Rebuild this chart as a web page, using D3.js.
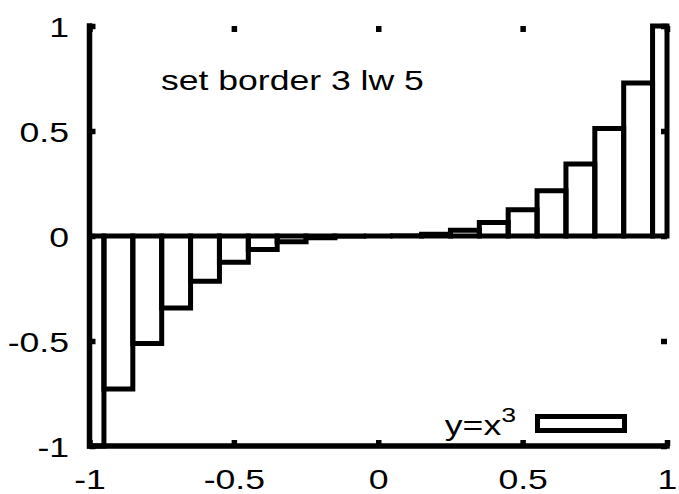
<!DOCTYPE html>
<html>
<head>
<meta charset="utf-8">
<script src="https://cdn.jsdelivr.net/npm/d3@7"></script>
<style>
  html, body { margin: 0; padding: 0; background: #fff; }
  svg { display: block; }
  text { font-family: "Liberation Sans", Arial, sans-serif; fill: #000; }
</style>
</head>
<body>
<script>
// ---- data ----
const xValues = [-1, -0.9, -0.8, -0.7, -0.6, -0.5, -0.4, -0.3, -0.2, -0.1, 0,
                 0.1, 0.2, 0.3, 0.4, 0.5, 0.6, 0.7, 0.8, 0.9, 1];
const yValues = [-1, -0.729, -0.512, -0.343, -0.216, -0.125, -0.064, -0.027, -0.008, -0.001, 0,
                 0.001, 0.008, 0.027, 0.064, 0.125, 0.216, 0.343, 0.512, 0.729, 1];
const boxWidth = 0.1;
const xTicks = [-1, -0.5, 0, 0.5, 1];
const xTickLabels = ["-1", "-0.5", "0", "0.5", "1"];
const yTicks = [-1, -0.5, 0, 0.5, 1];
const yTickLabels = ["-1", "-0.5", "0", "0.5", "1"];
const labelText = "set border 3 lw 5";
const legendBase = "y=x";
const legendSup = "3";

// ---- layout ----
const W = 679, H = 494;
const SX = 1.27;       // horizontal stretch of the font
const FS = 28;
const BORDER_W = 5.5, BAR_W = 5, TICK = 6;

const svg = d3.select("body").append("svg").attr("width", W).attr("height", H);

const x = d3.scaleLinear().domain([-1, 1]).range([89.5, 667]);
const y = d3.scaleLinear().domain([-1, 1]).range([446, 26]);

// ---- bars (boxes), clipped to x range; drawn as closed paths so zero-height boxes still show ----
const data = xValues.map((v, i) => ({ x: v, y: yValues[i] }));
svg.append("g").selectAll("path").data(data).join("path")
  .attr("d", d => {
    const x0 = x(Math.max(-1, d.x - boxWidth / 2));
    const x1 = x(Math.min(1, d.x + boxWidth / 2));
    const y0 = y(0), y1 = y(d.y);
    return `M${x0},${y0}L${x1},${y0}L${x1},${y1}L${x0},${y1}Z`;
  })
  .attr("fill", "none")
  .attr("stroke", "#000")
  .attr("stroke-width", BAR_W)
  .attr("stroke-linejoin", "miter")
  .attr("stroke-linecap", "square");

// ---- axes ----
function styleAxis(g) {
  g.select(".domain").remove();
  g.selectAll(".tick line").attr("stroke", "#000").attr("stroke-width", BORDER_W);
}

const xFmt = d => xTickLabels[xTicks.indexOf(d)];
const yFmt = d => yTickLabels[yTicks.indexOf(d)];

// bottom
const gB = svg.append("g").attr("transform", `translate(0,${y(-1)})`)
  .call(d3.axisBottom(x).tickValues(xTicks).tickFormat(xFmt).tickSizeInner(-TICK).tickSizeOuter(0));
styleAxis(gB);
gB.selectAll(".tick text")
  .attr("y", 43.5).attr("dy", 0)
  .attr("font-size", FS).attr("font-family", "Liberation Sans, Arial, sans-serif")
  .attr("fill", "#000")
  .attr("transform", `scale(${SX},1)`);

// left
const gL = svg.append("g").attr("transform", `translate(${x(-1)},0)`)
  .call(d3.axisLeft(y).tickValues(yTicks).tickFormat(yFmt).tickSizeInner(-TICK).tickSizeOuter(0));
styleAxis(gL);
gL.selectAll(".tick text")
  .attr("x", -20.5 / SX).attr("y", 10).attr("dy", 0)
  .attr("text-anchor", "end")
  .attr("font-size", FS).attr("font-family", "Liberation Sans, Arial, sans-serif")
  .attr("fill", "#000")
  .attr("transform", `scale(${SX},1)`);

// mirror ticks: top and right (no labels)
const gT = svg.append("g").attr("transform", `translate(0,${y(1)})`)
  .call(d3.axisTop(x).tickValues(xTicks).tickFormat("").tickSizeInner(-TICK).tickSizeOuter(0));
styleAxis(gT);
gT.selectAll(".tick text").remove();

const gR = svg.append("g").attr("transform", `translate(${x(1)},0)`)
  .call(d3.axisRight(y).tickValues(yTicks).tickFormat("").tickSizeInner(-TICK).tickSizeOuter(0));
styleAxis(gR);
gR.selectAll(".tick text").remove();

// border 3 (bottom + left)
svg.append("path")
  .attr("d", `M${x(-1)},${y(1)} L${x(-1)},${y(-1)} L${x(1)},${y(-1)}`)
  .attr("fill", "none")
  .attr("stroke", "#000")
  .attr("stroke-width", BORDER_W)
  .attr("stroke-linecap", "square")
  .attr("stroke-linejoin", "miter");

// ---- label ----
svg.append("text")
  .attr("transform", `translate(161,90) scale(${SX},1)`)
  .attr("font-size", FS)
  .text(labelText);

// ---- legend ----
const lt = svg.append("text")
  .attr("transform", `translate(516,435) scale(${SX},1)`)
  .attr("text-anchor", "end")
  .attr("font-size", FS);
lt.append("tspan").text(legendBase);
lt.append("tspan").attr("font-size", 21).attr("dy", -13).text(legendSup);

svg.append("rect")
  .attr("x", 537.5).attr("y", 416.5)
  .attr("width", 87).attr("height", 14)
  .attr("fill", "none")
  .attr("stroke", "#000")
  .attr("stroke-width", BAR_W);
</script>
</body>
</html>
